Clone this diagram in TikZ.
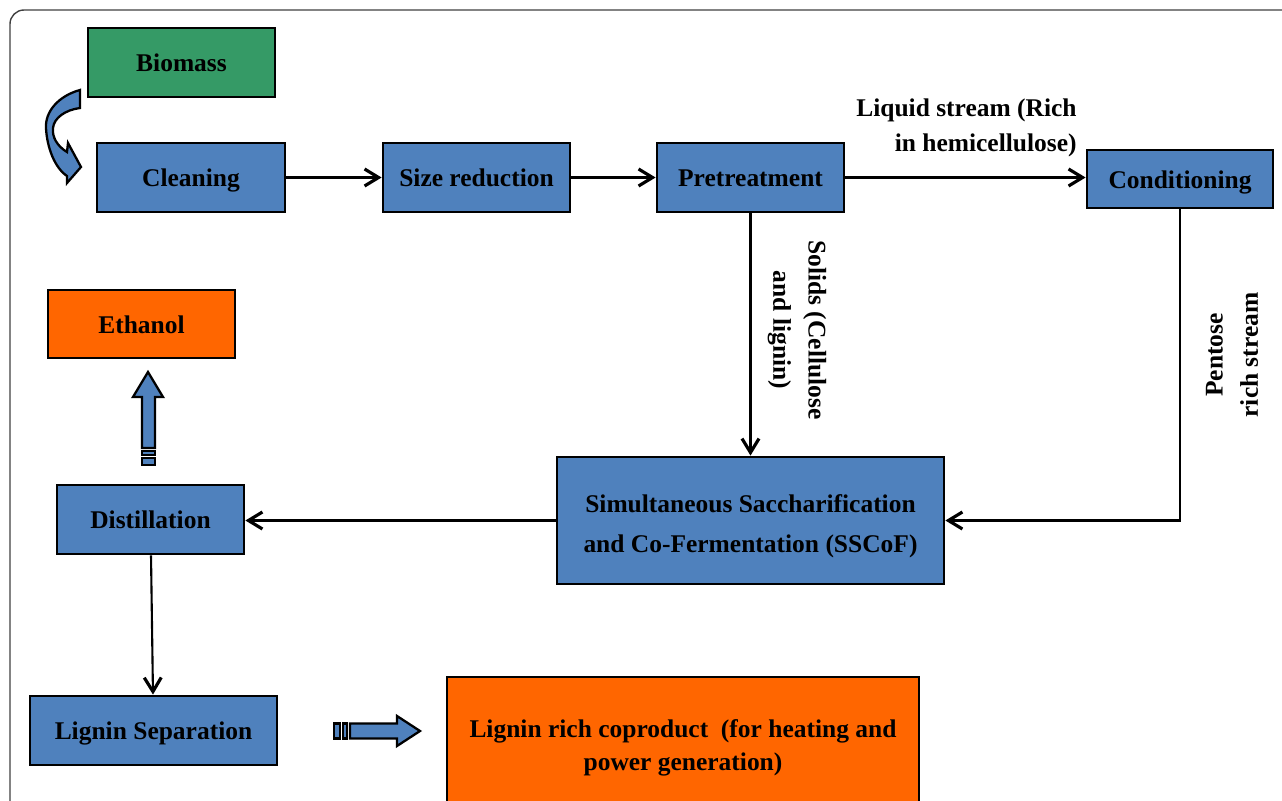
\documentclass[tikz,border=0pt]{standalone}
\usepackage{fontspec}
\setmainfont{Liberation Serif}
\usetikzlibrary{arrows.meta}
\definecolor{boxblue}{HTML}{4F81BD}
\definecolor{boxgreen}{HTML}{359A66}
\definecolor{boxorange}{HTML}{FF6600}

\begin{document}
\begin{tikzpicture}[x=0.02cm, y=-0.02cm,
  every node/.style = {font=\bfseries\fontsize{14.5}{20}\selectfont},
  box/.style = {shape=rectangle, draw, line width=1.6pt, fill=boxblue,
    text height=1.2em, text depth=0.12em},
  twoline/.style = {shape=rectangle, draw, line width=1.6pt, fill=boxblue, align=center},
  flow/.style = {-{Straight Barb[length=2.8mm,width=3.4mm,line width=1.8pt]}, line width=1.2pt},
  blockarrow/.style = {draw, line width=1.3pt, fill=boxblue, line join=miter}]
  \useasboundingbox (0,0) rectangle (1282,801);
  \draw[rounded corners=0.28cm, line width=0.8pt, black!75] (10,10) rectangle (1340,860);

  % process steps
  \node[box, fill=boxgreen, minimum width=3.74cm, minimum height=1.38cm] (biomass) at (181.5,62.5) {Biomass};
  \node[box, minimum width=3.76cm, minimum height=1.38cm] (cleaning) at (191,177.5) {Cleaning};
  \node[box, minimum width=3.74cm, minimum height=1.38cm] (sizered) at (476.5,177.5) {Size reduction};
  \node[box, minimum width=3.74cm, minimum height=1.38cm] (pretreat) at (750.5,177.5) {Pretreatment};
  \node[box, minimum width=3.72cm, minimum height=1.16cm] (condition) at (1180,179) {Conditioning};
  \node[box, fill=boxorange, minimum width=3.74cm, minimum height=1.36cm] (ethanol) at (141.5,324) {Ethanol};
  \node[box, minimum width=3.74cm, minimum height=1.38cm] (distill) at (150.5,519.5) {Distillation};
  \node[twoline, minimum width=7.74cm, minimum height=2.54cm,
    font=\bfseries\fontsize{14.5}{22.5}\selectfont] (sscof) at (750.5,520.5)
    {\rule{0pt}{1.15em}Simultaneous Saccharification\\and Co-Fermentation (SSCoF)};
  \node[box, minimum width=4.94cm, minimum height=1.38cm] (ligsep) at (153.5,730.5) {Lignin Separation};
  \node[twoline, fill=boxorange, minimum width=9.44cm, minimum height=2.64cm,
    font=\bfseries\fontsize{14.5}{19}\selectfont] (coprod) at (683,743)
    {\rule{0pt}{1.1em}Lignin rich coproduct~~(for heating and\\power generation)};

  % streams
  \draw[flow] (cleaning) -- (sizered);
  \draw[flow] (sizered) -- (pretreat);
  \draw[flow] (pretreat.east) -- (pretreat.east -| condition.west);
  \draw[flow] (pretreat) -- (sscof);
  \draw[flow] (condition) |- (sscof);
  \draw[flow] (sscof.west) -- (sscof.west -| distill.east);
  \draw[flow] (distill) -- (ligsep);

  \node[anchor=south east, align=right, inner sep=0pt] (liquidlbl) at (1077,157)
    {Liquid stream (Rich\\in hemicellulose)};
  \node[rotate=-90, align=center, inner sep=0pt] (solidslbl) at (797,330) {Solids (Cellulose\\and lignin)};
  \node[rotate=90, align=center, inner sep=0pt] (pentoselbl) at (1232,355) {Pentose\\rich stream};

  % block arrows
  \draw[blockarrow] (80,90) .. controls (58,96) and (45,112) .. (46,128)
    .. controls (47,148) and (55,168) .. (67,176) -- (67,183) -- (81,167) -- (68,143)
    -- (67,152) .. controls (57,146) and (52,137) .. (53,128)
    .. controls (54,118) and (65,110) .. (80,108) -- cycle;
  \draw[blockarrow] (142,448) -- (142,397) -- (133,397) -- (148,372) -- (163,397)
    -- (155,397) -- (155,448) -- cycle;
  \draw[blockarrow] (142,451) rectangle (155,455);
  \draw[blockarrow] (142,458) rectangle (155,465);
  \draw[blockarrow] (350,723.5) -- (397,723.5) -- (397,716) -- (420,731) -- (397,746)
    -- (397,738.5) -- (350,738.5) -- cycle;
  \draw[blockarrow] (343,723.5) rectangle (347,738.5);
  \draw[blockarrow] (334,723.5) rectangle (340,738.5);
\end{tikzpicture}
\end{document}
